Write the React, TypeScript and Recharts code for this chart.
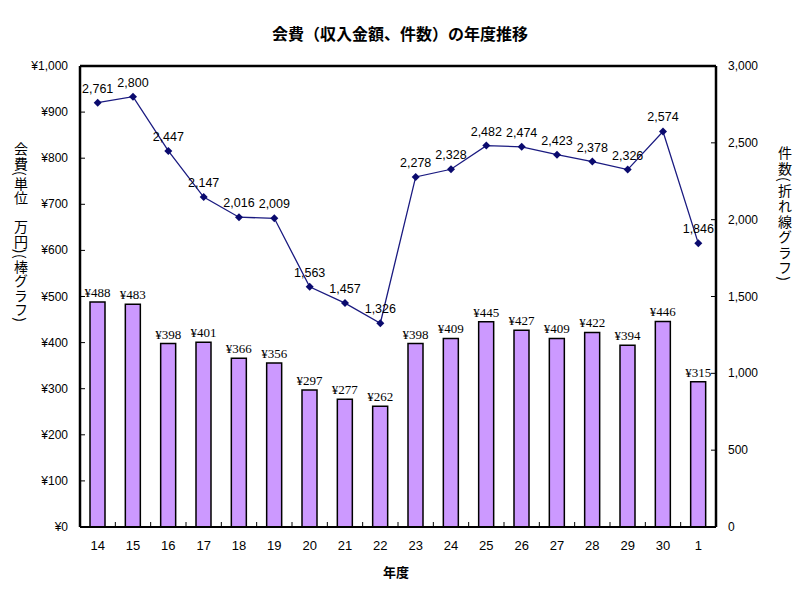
import { ComposedChart, Bar, Line, XAxis, YAxis, LabelList, ReferenceLine } from 'recharts';

const years = ['14', '15', '16', '17', '18', '19', '20', '21', '22', '23', '24', '25', '26', '27', '28', '29', '30', '1'];
const fees = [488, 483, 398, 401, 366, 356, 297, 277, 262, 398, 409, 445, 427, 409, 422, 394, 446, 315];
const counts = [2761, 2800, 2447, 2147, 2016, 2009, 1563, 1457, 1326, 2278, 2328, 2482, 2474, 2423, 2378, 2326, 2574, 1846];
const feeTicks = [0, 100, 200, 300, 400, 500, 600, 700, 800, 900, 1000];
const countTicks = [0, 500, 1000, 1500, 2000, 2500, 3000];

const data = years.map((y, i) => ({ year: y, fee: fees[i], count: counts[i] }));

// plot frame
const PL = 80;
const PR = 716;
const PB = 527;
const BAND = (PR - PL) / years.length;
const sans = '"Liberation Sans", Arial, sans-serif';
const jp = '"Noto Sans CJK JP", sans-serif';

const LeftTick = ({ y, payload }: any) => (
  <g>
    <line x1={PL} x2={PL + 5} y1={y} y2={y} stroke="#000" strokeWidth={1} />
    <text x={68} y={y} textAnchor="end" dominantBaseline="central" fontSize={12} fontFamily={sans} fill="#000">
      ¥{payload.value.toLocaleString()}
    </text>
  </g>
);

const RightTick = ({ y, payload }: any) => (
  <g>
    <line x1={PR - 5} x2={PR} y1={y} y2={y} stroke="#000" strokeWidth={1} />
    <text x={728} y={y} textAnchor="start" dominantBaseline="central" fontSize={12} fontFamily={sans} fill="#000">
      {payload.value.toLocaleString()}
    </text>
  </g>
);

const BottomTick = ({ x, payload }: any) => (
  <g>
    <line x1={x - BAND / 2} x2={x - BAND / 2} y1={PB} y2={PB - 5} stroke="#000" strokeWidth={1} />
    <text x={x} y={545} textAnchor="middle" dominantBaseline="central" fontSize={13} fontFamily={sans} fill="#000">
      {payload.value}
    </text>
  </g>
);

const Diamond = ({ cx, cy }: any) => (
  <path d={`M${cx},${cy - 4}L${cx + 4},${cy}L${cx},${cy + 4}L${cx - 4},${cy}Z`} fill="#0a0a6e" />
);

export default function App() {
  return (
    <div style={{ position: 'absolute', left: 0, top: 0, width: 800, height: 600, background: '#fff' }}>
      <div
        style={{
          position: 'absolute',
          top: 21,
          left: 0,
          width: 800,
          textAlign: 'center',
          fontFamily: jp,
          fontWeight: 700,
          fontSize: 16,
        }}
      >
        会費（収入金額、件数）の年度推移
      </div>

      {/* 縦書きの軸タイトル */}
      <div
        style={{
          position: 'absolute',
          left: 13,
          top: 142,
          writingMode: 'vertical-rl',
          fontFamily: jp,
          fontSize: 14,
          letterSpacing: 0.5,
          lineHeight: '16px',
        }}
      >
        会費(単位　万円)(棒グラフ)
      </div>
      <div
        style={{
          position: 'absolute',
          left: 777,
          top: 146,
          writingMode: 'vertical-rl',
          fontFamily: jp,
          fontSize: 14,
          letterSpacing: 1.5,
          lineHeight: '16px',
        }}
      >
        件数(折れ線グラフ)
      </div>
      <div
        style={{
          position: 'absolute',
          top: 562,
          left: 0,
          width: 792,
          textAlign: 'center',
          fontFamily: jp,
          fontWeight: 700,
          fontSize: 13,
        }}
      >
        年度
      </div>

      <ComposedChart
        width={800}
        height={600}
        data={data}
        margin={{ top: 66, right: 0, bottom: 43, left: 0 }}
      >
        <XAxis
          dataKey="year"
          height={30}
          axisLine={{ stroke: '#000', strokeWidth: 2 }}
          tickLine={false}
          tick={<BottomTick />}
          interval={0}
        />
        <YAxis
          yAxisId="left"
          width={80}
          domain={[0, 1000]}
          ticks={feeTicks}
          axisLine={{ stroke: '#000', strokeWidth: 2.5 }}
          tickLine={false}
          tick={<LeftTick />}
          interval={0}
        />
        <YAxis
          yAxisId="right"
          orientation="right"
          width={84}
          domain={[0, 3000]}
          ticks={countTicks}
          axisLine={{ stroke: '#000', strokeWidth: 2.5 }}
          tickLine={false}
          tick={<RightTick />}
          interval={0}
        />
        <ReferenceLine yAxisId="left" y={1000} stroke="#000" strokeWidth={2.5} />
        <Bar
          yAxisId="left"
          dataKey="fee"
          fill="#cc99ff"
          stroke="#000"
          strokeWidth={1.5}
          barSize={15}
          isAnimationActive={false}
        >
          <LabelList
            dataKey="fee"
            position="top"
            offset={5}
            formatter={(v: any) => `¥${v}`}
            style={{ fontFamily: '"Liberation Serif", serif', fontSize: 13, fill: '#000' }}
          />
        </Bar>
        <Line
          yAxisId="right"
          dataKey="count"
          stroke="#1a1a80"
          strokeWidth={1.3}
          dot={<Diamond />}
          activeDot={false}
          isAnimationActive={false}
        >
          <LabelList
            dataKey="count"
            position="top"
            offset={10}
            formatter={(v: any) => Number(v).toLocaleString()}
            style={{ fontFamily: sans, fontSize: 12.5, fill: '#000' }}
          />
        </Line>
      </ComposedChart>
    </div>
  );
}
